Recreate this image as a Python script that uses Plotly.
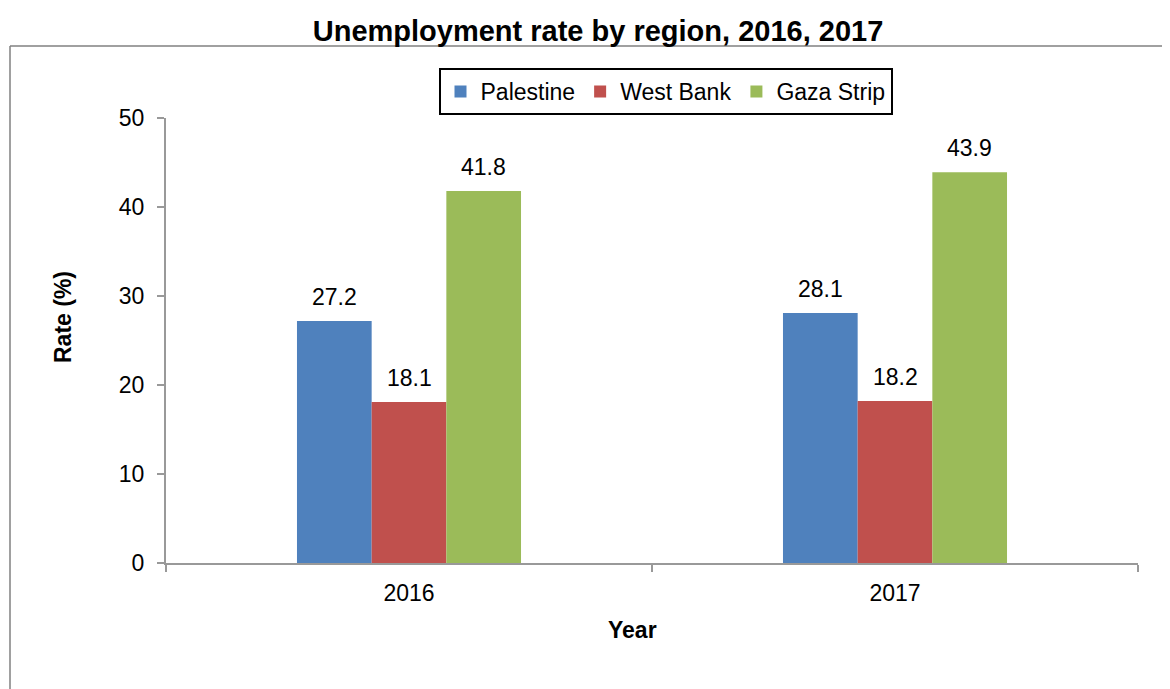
import plotly.graph_objects as go

years = ["2016", "2017"]
series_names = ["Palestine", "West Bank", "Gaza Strip"]
palestine = [27.2, 28.1]
west_bank = [18.1, 18.2]
gaza_strip = [41.8, 43.9]
colors = ["#4F81BD", "#C0504D", "#9BBB59"]
y_ticks = [0, 10, 20, 30, 40, 50]

OFF = 8  # page body margin
W, H = 1170 - OFF, 689 - OFF
# plot area in screen pixels
SX0, SX1, SY0, SY1 = 166, 1138, 118, 563
ML, MT = SX0 - OFF, SY0 - OFF
MR, MB = W - (SX1 - OFF), H - (SY1 - OFF)
PW, PH = W - ML - MR, H - MT - MB

FONT = "Liberation Sans, Arial, sans-serif"
BARGAP = 0.539

fig = go.Figure()
all_vals = [palestine, west_bank, gaza_strip]
for name, vals, col in zip(series_names, all_vals, colors):
    fig.add_trace(go.Bar(name=name, x=years, y=vals, marker=dict(color=col, line=dict(width=0))))

bw = (1 - BARGAP) / 3
annotations = []
for si, vals in enumerate(all_vals):
    for ci, v in enumerate(vals):
        annotations.append(dict(
            x=ci + (si - 1) * bw, y=v, xref="x", yref="y",
            text=f"{v:.1f}", showarrow=False, xanchor="center", yanchor="bottom", yshift=9,
            font=dict(family=FONT, size=23, color="#000"),
        ))

def px_x(p):
    return (p - SX0) / PW

def px_y(p):
    return (SY1 - p) / PH

annotations.append(dict(x=px_x(632), y=px_y(630), xref="paper", yref="paper",
                        xanchor="center", yanchor="middle",
                        text="<b>Year</b>", showarrow=False,
                        font=dict(family=FONT, size=23, color="#000")))
annotations.append(dict(x=px_x(63), y=px_y(317), xref="paper", yref="paper",
                        xanchor="center", yanchor="middle",
                        text="<b>Rate (%)</b>", showarrow=False, textangle=-90,
                        font=dict(family=FONT, size=23, color="#000")))

shapes = [
    dict(type="line", xref="paper", yref="paper", x0=px_x(10), x1=px_x(1180),
         y0=px_y(46), y1=px_y(46), line=dict(color="#808080", width=1.5)),
    dict(type="line", xref="paper", yref="paper", x0=px_x(10), x1=px_x(10),
         y0=px_y(46), y1=px_y(700), line=dict(color="#808080", width=1.5)),
]

fig.update_layout(
    width=W, height=H,
    margin=dict(l=ML, r=MR, t=MT, b=MB),
    paper_bgcolor="white", plot_bgcolor="white",
    barmode="group", bargap=BARGAP, bargroupgap=0,
    title=dict(text="<b>Unemployment rate by region, 2016, 2017</b>",
               x=(598 - OFF) / W, xanchor="center", y=1 - (31 - OFF) / H, yanchor="middle",
               yref="container", xref="container",
               font=dict(family=FONT, size=29, color="#000")),
    legend=dict(orientation="h", x=px_x(665.5), xanchor="center",
                y=px_y(68), yanchor="top", bordercolor="#000", borderwidth=2,
                font=dict(family=FONT, size=23, color="#000"), bgcolor="white",
                traceorder="normal"),
    xaxis=dict(type="category", showline=True, linecolor="#999999", linewidth=2,
               ticks="outside", tickson="boundaries", ticklen=7, tickwidth=2,
               tickcolor="#999999", showgrid=False, zeroline=False,
               tickfont=dict(family=FONT, size=23, color="#000"),
               ticklabelstandoff=8),
    yaxis=dict(range=[0, 50], tickvals=y_ticks, showline=True, linecolor="#999999",
               linewidth=2, ticks="outside", ticklen=7, tickwidth=2,
               tickcolor="#999999", showgrid=False, zeroline=False,
               tickfont=dict(family=FONT, size=23, color="#000"),
               ticklabelstandoff=8),
    annotations=annotations,
    shapes=shapes,
    showlegend=True,
)

fig.write_html("out.html")
